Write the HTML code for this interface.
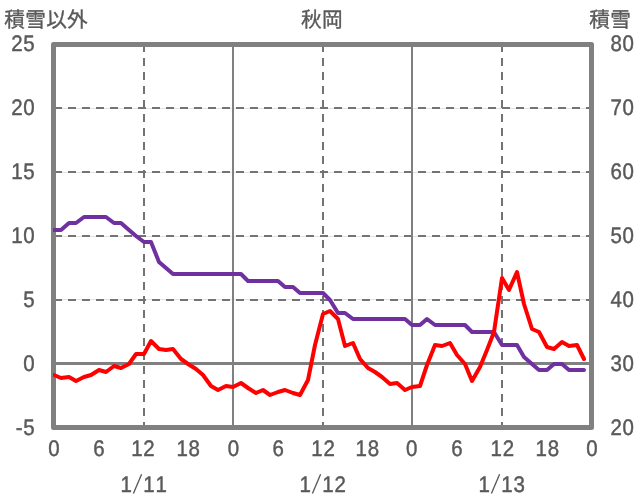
<!DOCTYPE html>
<html lang="ja"><head><meta charset="utf-8"><title>秋岡</title>
<style>html,body{margin:0;padding:0;background:#fff;overflow:hidden}svg{display:block;will-change:transform}text{font-family:"Liberation Sans",sans-serif;font-size:22.5px;letter-spacing:0.767px;font-kerning:none;text-rendering:geometricPrecision;fill:#595959;stroke:#595959;stroke-width:.45px}.h{fill-opacity:0;stroke:none}.j{font-family:"Liberation Sans","Noto Sans CJK JP",sans-serif;font-size:21px;letter-spacing:0.3px;stroke-width:.35px}</style></head><body>
<svg width="636" height="501" viewBox="0 0 636 501">
<defs><filter id="tf" x="0" y="0" width="636" height="501" filterUnits="userSpaceOnUse" color-interpolation-filters="sRGB"><feOffset dx="0" dy="0"/></filter><clipPath id="pc"><rect x="53" y="42" width="541" height="388"/></clipPath></defs>
<rect width="636" height="501" fill="#fff"/>
<g stroke="#e2e2e2" stroke-width="1" fill="none">
<line x1="54" y1="108.5" x2="591" y2="108.5"/>
<line x1="54" y1="172.5" x2="591" y2="172.5"/>
<line x1="54" y1="236.5" x2="591" y2="236.5"/>
<line x1="54" y1="299.5" x2="591" y2="299.5"/>
</g>
<g stroke="#737373" stroke-width="2" fill="none" stroke-dasharray="8 6">
<line x1="54" y1="108" x2="591" y2="108"/>
<line x1="54" y1="172" x2="591" y2="172"/>
<line x1="54" y1="236" x2="591" y2="236"/>
<line x1="54" y1="300" x2="591" y2="300"/>
<line x1="144" y1="44" x2="144" y2="428"/>
<line x1="323" y1="44" x2="323" y2="428"/>
<line x1="502" y1="44" x2="502" y2="428"/>
</g>
<g stroke="#808080" fill="none">
<line x1="233" y1="44" x2="233" y2="428" stroke-width="2"/>
<line x1="412" y1="44" x2="412" y2="428" stroke-width="2"/>
<line x1="54" y1="363.5" x2="591" y2="363.5" stroke-width="3"/>
</g>
<rect x="53.5" y="44.5" width="538" height="383" fill="none" stroke="#808080" stroke-width="5" stroke-linejoin="round"/>
<g clip-path="url(#pc)" fill="none" stroke-width="4" stroke-linejoin="round" stroke-linecap="round">
<polyline points="54,230 61,230 69,223 76,223 84,217 91,217 99,217 106,217 114,223 121,223 129,230 136,236 144,242 151,242 159,262 166,268 173,274 181,274 188,274 196,274 203,274 211,274 218,274 226,274 233,274 241,274 248,281 256,281 263,281 270,281 278,281 285,287 293,287 300,293 308,293 315,293 323,293 330,300 338,313 345,313 353,319 360,319 368,319 375,319 382,319 390,319 397,319 405,319 412,325 420,325 427,319 435,325 442,325 450,325 457,325 465,325 472,332 480,332 487,332 494,332 502,345 509,345 517,345 524,357 532,364 539,370 547,370 554,364 562,364 569,370 577,370 584,370" stroke="#7030a0"/>
<polyline points="54,375 61,378 69,377 76,381 84,377 91,375 99,370 106,372 114,366 121,368 129,364 136,354 144,354 151,341 159,349 166,350 173,349 181,359 188,364 196,369 203,375 211,386 218,390 226,386 233,387 241,383 248,388 256,393 263,390 270,395 278,392 285,390 293,393 300,395 308,380 315,345 323,314 330,311 338,319 345,346 353,343 360,359 368,368 375,372 382,377 390,384 397,383 405,390 412,387 420,386 427,365 435,345 442,346 450,343 457,355 465,364 472,381 480,367 487,350 494,332 502,278 509,290 517,272 524,304 532,329 539,332 547,347 554,349 562,342 569,346 577,345 584,359" stroke="#ff0000"/>
</g>
<g filter="url(#tf)">
<text transform="translate(35.30 51.00) scale(0.9093 1)" text-anchor="end">25</text>
<text transform="translate(35.30 115.00) scale(0.9093 1)" text-anchor="end">20</text>
<text transform="translate(35.30 179.00) scale(0.9093 1)" text-anchor="end">15</text>
<text transform="translate(35.30 243.00) scale(0.9093 1)" text-anchor="end">10</text>
<text transform="translate(35.30 307.00) scale(0.9093 1)" text-anchor="end">5</text>
<text transform="translate(35.30 371.00) scale(0.9093 1)" text-anchor="end">0</text>
<text transform="translate(35.30 435.00) scale(0.9093 1)" text-anchor="end">-5</text>
<text transform="translate(610.40 51.00) scale(0.9093 1)">80</text>
<text transform="translate(610.40 115.00) scale(0.9093 1)">70</text>
<text transform="translate(610.40 179.00) scale(0.9093 1)">60</text>
<text transform="translate(610.40 243.00) scale(0.9093 1)">50</text>
<text transform="translate(610.40 307.00) scale(0.9093 1)">40</text>
<text transform="translate(610.40 371.00) scale(0.9093 1)">30</text>
<text transform="translate(610.40 435.00) scale(0.9093 1)">20</text>
<text transform="translate(54.40 456.00) scale(0.9093 1)" text-anchor="middle">0</text>
<text transform="translate(99.20 456.00) scale(0.9093 1)" text-anchor="middle">6</text>
<text transform="translate(143.25 456.00) scale(0.9093 1)" text-anchor="middle">12</text>
<text transform="translate(188.55 456.00) scale(0.9093 1)" text-anchor="middle">18</text>
<text transform="translate(233.70 456.00) scale(0.9093 1)" text-anchor="middle">0</text>
<text transform="translate(278.50 456.00) scale(0.9093 1)" text-anchor="middle">6</text>
<text transform="translate(323.40 456.00) scale(0.9093 1)" text-anchor="middle">12</text>
<text transform="translate(367.70 456.00) scale(0.9093 1)" text-anchor="middle">18</text>
<text transform="translate(412.05 456.00) scale(0.9093 1)" text-anchor="middle">0</text>
<text transform="translate(457.20 456.00) scale(0.9093 1)" text-anchor="middle">6</text>
<text transform="translate(502.65 456.00) scale(0.9093 1)" text-anchor="middle">12</text>
<text transform="translate(547.70 456.00) scale(0.9093 1)" text-anchor="middle">18</text>
<text transform="translate(592.20 456.00) scale(0.9093 1)" text-anchor="middle">0</text>
<text transform="translate(120.40 492) scale(0.9093 1)">1<tspan class="h">/</tspan><tspan dx="4.9">11</tspan></text>
<line x1="133.40" y1="493.6" x2="141.60" y2="474.2" stroke="#595959" stroke-width="1.35"/>
<text transform="translate(299.40 492) scale(0.9093 1)">1<tspan class="h">/</tspan><tspan dx="4.9">12</tspan></text>
<line x1="312.40" y1="493.6" x2="320.60" y2="474.2" stroke="#595959" stroke-width="1.35"/>
<text transform="translate(478.40 492) scale(0.9093 1)">1<tspan class="h">/</tspan><tspan dx="4.9">13</tspan></text>
<line x1="491.40" y1="493.6" x2="499.60" y2="474.2" stroke="#595959" stroke-width="1.35"/>
</g>
<text class="j" transform="translate(4.30 27.10) scale(0.983 1)">積雪以外</text>
<text class="j" transform="translate(301.10 27.00) scale(0.983 1)">秋岡</text>
<text class="j" transform="translate(589.20 27.00) scale(0.983 1)">積雪</text>
</svg></body></html>
